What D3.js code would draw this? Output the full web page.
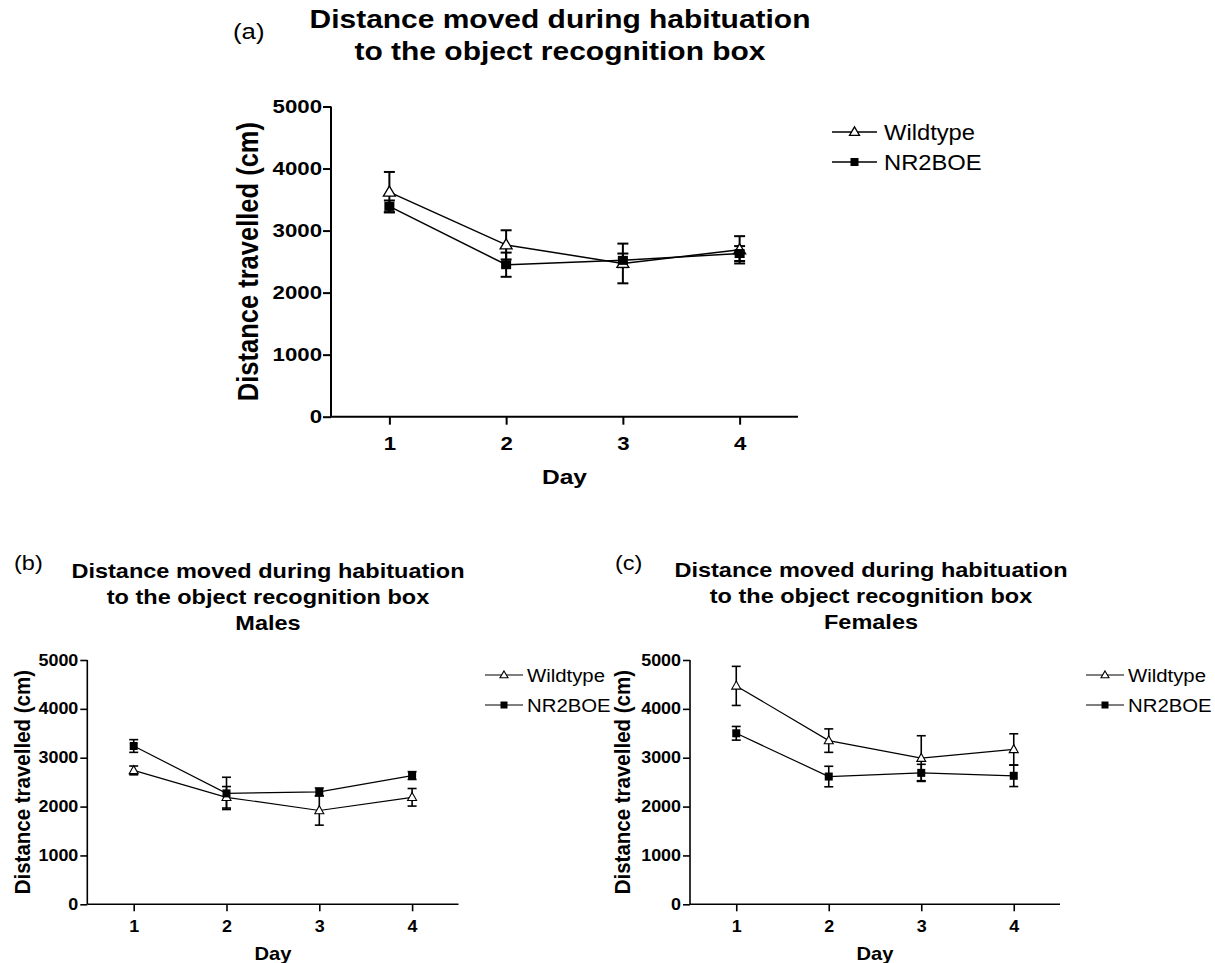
<!DOCTYPE html>
<html>
<head>
<meta charset="utf-8">
<script src="https://cdn.jsdelivr.net/npm/d3@7"></script>
<style>
  html, body { margin: 0; padding: 0; background: #fff; }
  svg { display: block; }
  text { font-family: "Liberation Sans", Arial, sans-serif; fill: #000; }
</style>
</head>
<body>
<svg id="chart" width="1215" height="963"></svg>
<script>
// ---------------- DATA ----------------
const days = [1, 2, 3, 4];
const yTickValues = [0, 1000, 2000, 3000, 4000, 5000];
const seriesNames = ["Wildtype", "NR2BOE"];

const titleLines = ["Distance moved during habituation", "to the object recognition box"];
const yLabel = "Distance travelled (cm)";
const xLabel = "Day";

// (a) all animals
const allWildtype = [3620, 2770, 2470, 2690];
const allWildtypeErr = [325, 235, 320, 220];
const allNR2BOE = [3390, 2450, 2520, 2630];
const allNR2BOEErr = [95, 195, 110, 120];

// (b) males
const maleWildtype = [2740, 2190, 1920, 2190];
const maleWildtypeErr = [90, 220, 300, 180];
const maleNR2BOE = [3240, 2270, 2300, 2635];
const maleNR2BOEErr = [130, 330, 80, 80];

// (c) females
const femaleWildtype = [4470, 3350, 2990, 3170];
const femaleWildtypeErr = [400, 240, 460, 320];
const femaleNR2BOE = [3500, 2615, 2690, 2630];
const femaleNR2BOEErr = [140, 210, 175, 220];

// ---------------- DRAWING ----------------
const svg = d3.select("#chart");

// horizontally stretched text (the original figure is stretched sideways)
function txt(g, x, y, str, o) {
  const rot = o.rotate ? ` rotate(${o.rotate})` : "";
  return g.append("text")
    .attr("transform", `translate(${x},${y}) scale(${o.k},1)${rot}`)
    .attr("text-anchor", o.anchor || "start")
    .attr("font-weight", o.bold ? "bold" : "normal")
    .attr("font-size", o.size)
    .attr("dy", o.dy || null)
    .text(str);
}

function drawPanel(cfg) {
  const g = svg.append("g");
  const k = cfg.k;
  const x = d3.scaleLinear().domain([0.5, 4.5]).range([cfg.left, cfg.right]);
  const y = d3.scaleLinear().domain([0, 5000]).range([cfg.bottom, cfg.top]);

  const yAxis = d3.axisLeft(y).tickValues(yTickValues).tickSize(cfg.yTick).tickPadding(cfg.yPad).tickFormat(d3.format("d"));
  const xAxis = d3.axisBottom(x).tickValues(days).tickSize(cfg.xTick).tickPadding(cfg.xPad).tickFormat(d3.format("d"));

  const ya = g.append("g").attr("transform", `translate(${cfg.left},0)`).call(yAxis);
  const xa = g.append("g").attr("transform", `translate(0,${cfg.bottom})`).call(xAxis);
  [ya, xa].forEach(a => {
    a.select(".domain").attr("stroke", "#000").attr("stroke-width", cfg.axisW);
    a.selectAll(".tick line").attr("stroke", "#000").attr("stroke-width", cfg.axisW);
    a.selectAll(".tick text").attr("font-size", cfg.tickFont).attr("font-weight", "bold")
      .attr("font-family", "'Liberation Sans', Arial, sans-serif").attr("fill", "#000");
  });
  ya.select(".domain").attr("d", `M0,${y(0)}V${y(5000)}`);
  xa.select(".domain").attr("d", `M${cfg.left},0H${cfg.right}`);
  // stretch tick labels
  ya.selectAll(".tick text").each(function () {
    const t = d3.select(this);
    const xx = +t.attr("x");
    t.attr("x", 0).attr("transform", `translate(${xx},0) scale(${k},1)`);
  });
  xa.selectAll(".tick text").each(function () {
    const t = d3.select(this);
    const yy = +t.attr("y");
    t.attr("y", 0).attr("dy", null).attr("transform", `translate(0,${yy}) scale(${k},1)`);
  });
  xa.selectAll(".tick text").attr("y", cfg.xLabBase - cfg.bottom).attr("transform", `scale(${k},1)`);

  // axis labels
  txt(g, cfg.yLabelX, (cfg.top + cfg.bottom) / 2, yLabel,
      { k, rotate: -90, anchor: "middle", bold: true, size: cfg.yLabFont, dy: "0.36em" });
  txt(g, (cfg.left + cfg.right) / 2, cfg.xLabelY, xLabel,
      { k, anchor: "middle", bold: true, size: cfg.xLabFont });

  // title
  const lines = titleLines.concat(cfg.extraTitle ? [cfg.extraTitle] : []);
  lines.forEach((t, i) => {
    txt(g, cfg.titleX, cfg.titleY + i * cfg.titleGap, t, { k, anchor: "middle", bold: true, size: cfg.titleFont });
  });
  txt(g, cfg.tagX, cfg.tagY, cfg.tag, { k, size: cfg.tagFont });

  // series
  const series = [
    { name: seriesNames[0], vals: cfg.wt, errs: cfg.wtErr, shape: "tri" },
    { name: seriesNames[1], vals: cfg.nr, errs: cfg.nrErr, shape: "sq" }
  ];
  const line = d3.line().x((d, i) => x(days[i])).y(d => y(d));

  function marker(sel, shape, cx, cy, w, h) {
    if (shape === "tri") {
      sel.append("path")
        .attr("d", `M${cx},${cy - h * 0.6}L${cx + w / 2},${cy + h * 0.4}L${cx - w / 2},${cy + h * 0.4}Z`)
        .attr("fill", "#fff").attr("stroke", "#000").attr("stroke-width", cfg.markW);
    } else {
      sel.append("rect").attr("x", cx - w / 2).attr("y", cy - h / 2).attr("width", w).attr("height", h).attr("fill", "#000");
    }
  }

  series.forEach(s => {
    s.vals.forEach((v, i) => {
      const cx = x(days[i]);
      g.append("line").attr("x1", cx).attr("x2", cx).attr("y1", y(v - s.errs[i])).attr("y2", y(v + s.errs[i]))
        .attr("stroke", "#000").attr("stroke-width", cfg.errW);
      [v - s.errs[i], v + s.errs[i]].forEach(e => {
        g.append("line").attr("x1", cx - cfg.cap / 2).attr("x2", cx + cfg.cap / 2).attr("y1", y(e)).attr("y2", y(e))
          .attr("stroke", "#000").attr("stroke-width", cfg.errW);
      });
    });
    g.append("path").datum(s.vals).attr("d", line).attr("fill", "none").attr("stroke", "#000").attr("stroke-width", cfg.lineW);
  });
  series.forEach(s => {
    s.vals.forEach((v, i) => {
      if (s.shape === "tri") marker(g, "tri", x(days[i]), y(v), cfg.triW, cfg.triH);
      else marker(g, "sq", x(days[i]), y(v), cfg.sqW, cfg.sqH);
    });
  });

  // legend
  series.forEach((s, i) => {
    const ly = cfg.legY + i * cfg.legGap;
    g.append("line").attr("x1", cfg.legX).attr("x2", cfg.legX + cfg.legLen).attr("y1", ly).attr("y2", ly)
      .attr("stroke", "#000").attr("stroke-width", cfg.lineW);
    if (s.shape === "tri") marker(g, "tri", cfg.legX + cfg.legLen / 2, ly, cfg.legTri, cfg.legTri * 0.85);
    else marker(g, "sq", cfg.legX + cfg.legLen / 2, ly, cfg.legSq, cfg.legSq);
    txt(g, cfg.legTextX, ly, s.name, { k: cfg.legK, size: cfg.legFont, dy: "0.36em" });
  });
}

drawPanel({
  k: 1.17,
  left: 331, right: 798, top: 106.5, bottom: 416.7,
  yTick: 8, yPad: 1, xTick: 8, xPad: 6, axisW: 2, tickFont: 19,
  xLabBase: 450, yLabFont: 25.5, xLabFont: 21,
  yLabelX: 247, xLabelY: 484,
  titleX: 560, titleY: 28, titleGap: 32, titleFont: 25.6,
  tag: "(a)", tagX: 233, tagY: 39, tagFont: 22,
  wt: allWildtype, wtErr: allWildtypeErr, nr: allNR2BOE, nrErr: allNR2BOEErr,
  errW: 2, cap: 11, lineW: 1.5, markW: 1.3, triW: 12, triH: 10, sqW: 10, sqH: 9,
  legX: 832, legLen: 45, legY: 132, legGap: 30, legTri: 10, legSq: 8,
  legTextX: 884, legFont: 22, legK: 1.08
});

drawPanel({
  k: 1.12,
  left: 87.3, right: 458.5, top: 660, bottom: 904.3,
  yTick: 7, yPad: 2, xTick: 7, xPad: 6, axisW: 1.6, tickFont: 16,
  xLabBase: 932, yLabFont: 20.5, xLabFont: 18,
  yLabelX: 22, xLabelY: 960,
  titleX: 268, titleY: 578, titleGap: 26, titleFont: 21, extraTitle: "Males",
  tag: "(b)", tagX: 14, tagY: 570, tagFont: 21,
  wt: maleWildtype, wtErr: maleWildtypeErr, nr: maleNR2BOE, nrErr: maleNR2BOEErr,
  errW: 1.6, cap: 9, lineW: 1.2, markW: 1.1, triW: 9, triH: 8, sqW: 8, sqH: 8,
  legX: 485, legLen: 38, legY: 675, legGap: 30, legTri: 8, legSq: 7,
  legTextX: 527, legFont: 18.5, legK: 1.1
});

drawPanel({
  k: 1.12,
  left: 690, right: 1060, top: 660, bottom: 904.3,
  yTick: 7, yPad: 2, xTick: 7, xPad: 6, axisW: 1.6, tickFont: 16,
  xLabBase: 932, yLabFont: 20.5, xLabFont: 18,
  yLabelX: 622, xLabelY: 960,
  titleX: 871, titleY: 577, titleGap: 26, titleFont: 21, extraTitle: "Females",
  tag: "(c)", tagX: 615, tagY: 570, tagFont: 21,
  wt: femaleWildtype, wtErr: femaleWildtypeErr, nr: femaleNR2BOE, nrErr: femaleNR2BOEErr,
  errW: 1.6, cap: 9, lineW: 1.2, markW: 1.1, triW: 9, triH: 8, sqW: 8, sqH: 8,
  legX: 1086, legLen: 38, legY: 675, legGap: 30, legTri: 8, legSq: 7,
  legTextX: 1128, legFont: 18.5, legK: 1.1
});
</script>
</body>
</html>
